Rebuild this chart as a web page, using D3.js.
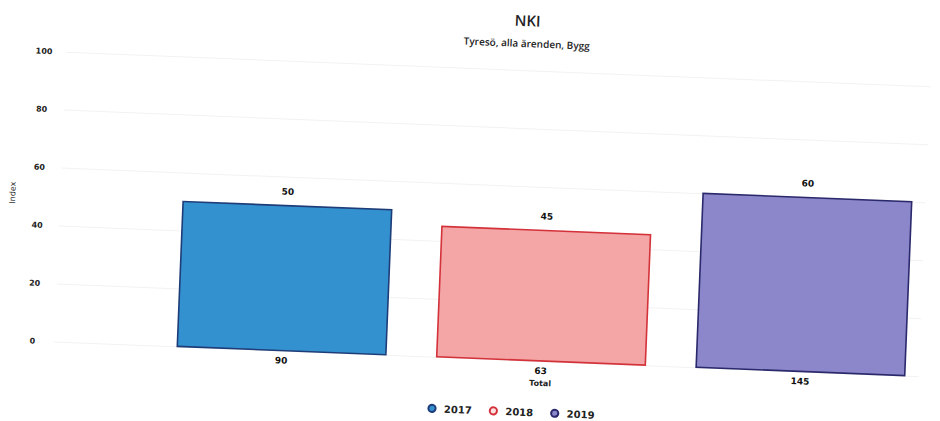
<!DOCTYPE html>
<html>
<head>
<meta charset="utf-8">
<script src="https://cdn.jsdelivr.net/npm/d3@7"></script>
<style>
  body { margin: 0; background: #fff; }
  svg { display: block; }
</style>
</head>
<body>
<svg id="chart"></svg>
<script>
var categories = ["Total"];
var seriesNames = ["2017", "2018", "2019"];
var indexValues = [50, 45, 60];
var answerCounts = [90, 63, 145];
var yTicks = [0, 20, 40, 60, 80, 100];
var fillColors = ["#3491cf", "#f3a6a5", "#8c86ca"];
var strokeColors = ["#1d3c78", "#d4323a", "#2a296c"];

var width = 940, height = 421;

var svg = d3.select("#chart")
    .attr("width", width)
    .attr("height", height);

// the reference is a slightly tilted scan, so the whole drawing is turned a bit
var g = svg.append("g")
    .attr("transform", "rotate(2.3,470,210)");

var plotLeft = 60, plotRight = 925;

var y = d3.scaleLinear()
    .domain([0, 100])
    .range([358, 68]);

var xCat = d3.scaleBand()
    .domain(categories)
    .range([183, 911])
    .paddingOuter(0);

var xSeries = d3.scaleBand()
    .domain(seriesNames)
    .range([0, xCat.bandwidth()])
    .paddingInner(0.196);

// grid
var grid = g.append("g")
    .attr("transform", "translate(" + plotLeft + ",0)")
    .call(d3.axisLeft(y).tickValues(yTicks).tickSize(-(plotRight - plotLeft)).tickFormat(""));
grid.select(".domain").remove();
grid.selectAll("line")
    .attr("stroke", "#f2f2f2")
    .attr("stroke-width", 1);

// y tick labels
var yAxis = g.append("g")
    .attr("transform", "translate(38,0)")
    .call(d3.axisLeft(y).tickValues(yTicks).tickSize(0).tickPadding(0));
yAxis.select(".domain").remove();
yAxis.selectAll("text")
    .attr("x", 0)
    .attr("text-anchor", "middle")
    .attr("fill", "#222")
    .style("font-family", "DejaVu Sans")
    .style("font-weight", "bold")
    .style("font-size", "8px");

g.append("text")
    .attr("transform", "translate(15,211) rotate(-90)")
    .attr("text-anchor", "middle")
    .attr("fill", "#333")
    .style("font-family", "DejaVu Sans")
    .style("font-size", "8px")
    .text("Index");

// bars
var bars = seriesNames.map(function (s, i) {
    return { name: s, value: indexValues[i], count: answerCounts[i], cat: categories[0], i: i };
});

g.selectAll(".bar")
    .data(bars)
    .enter().append("rect")
    .attr("class", "bar")
    .attr("x", function (d) { return xCat(d.cat) + xSeries(d.name); })
    .attr("y", function (d) { return y(d.value); })
    .attr("width", xSeries.bandwidth())
    .attr("height", function (d) { return y(0) - y(d.value); })
    .attr("fill", function (d) { return fillColors[d.i]; })
    .attr("stroke", function (d) { return strokeColors[d.i]; })
    .attr("stroke-width", 1.6);

g.selectAll(".val")
    .data(bars)
    .enter().append("text")
    .attr("class", "val")
    .attr("x", function (d) { return xCat(d.cat) + xSeries(d.name) + xSeries.bandwidth() / 2; })
    .attr("y", function (d) { return y(d.value) - 11; })
    .attr("text-anchor", "middle")
    .attr("fill", "#111")
    .style("font-family", "DejaVu Sans")
    .style("font-weight", "bold")
    .style("font-size", "9px")
    .text(function (d) { return d.value; });

g.selectAll(".cnt")
    .data(bars)
    .enter().append("text")
    .attr("class", "cnt")
    .attr("x", function (d) { return xCat(d.cat) + xSeries(d.name) + xSeries.bandwidth() / 2; })
    .attr("y", y(0) + 13)
    .attr("text-anchor", "middle")
    .attr("fill", "#111")
    .style("font-family", "DejaVu Sans")
    .style("font-weight", "bold")
    .style("font-size", "9px")
    .text(function (d) { return d.count; });

// category label
g.selectAll(".cat")
    .data(categories)
    .enter().append("text")
    .attr("class", "cat")
    .attr("x", function (d) { return xCat(d) + xCat.bandwidth() / 2; })
    .attr("y", y(0) + 25)
    .attr("text-anchor", "middle")
    .attr("fill", "#222")
    .style("font-family", "DejaVu Sans")
    .style("font-weight", "bold")
    .style("font-size", "8px")
    .text(function (d) { return d; });

// title
g.append("text")
    .attr("x", 520)
    .attr("y", 24)
    .attr("text-anchor", "middle")
    .attr("fill", "#222")
    .style("font-family", "Open Sans")
    .style("font-weight", "600")
    .style("font-size", "15px")
    .text("NKI");

g.append("text")
    .attr("x", 520)
    .attr("y", 45)
    .attr("text-anchor", "middle")
    .attr("fill", "#222")
    .style("font-family", "Open Sans")
    .style("font-weight", "600")
    .style("font-size", "10px")
    .text("Tyresö, alla ärenden, Bygg");

// legend
var legend = g.selectAll(".legend")
    .data(seriesNames)
    .enter().append("g")
    .attr("class", "legend")
    .attr("transform", function (d, i) { return "translate(" + (440 + i * 61.4) + ",409.7)"; });

legend.append("circle")
    .attr("r", 3.6)
    .attr("fill", function (d, i) { return i === 1 ? "#fbe3e3" : fillColors[i]; })
    .attr("stroke", function (d, i) { return strokeColors[i]; })
    .attr("stroke-width", 2);

legend.append("text")
    .attr("x", 12)
    .attr("y", 3.8)
    .attr("fill", "#222")
    .style("font-family", "DejaVu Sans")
    .style("font-weight", "bold")
    .style("font-size", "10px")
    .text(function (d) { return d; });
</script>
</body>
</html>
